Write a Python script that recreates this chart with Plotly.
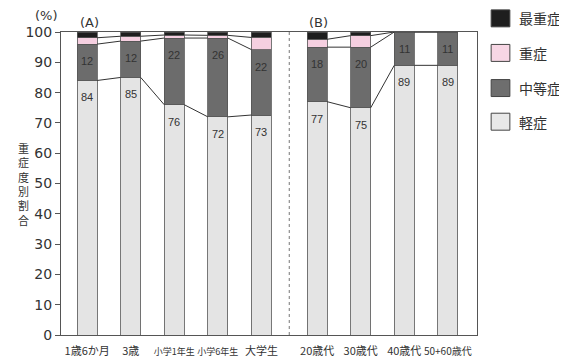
import plotly.graph_objects as go

categories = ["1歳6か月", "3歳", "小学1年生", "小学6年生", "大学生",
              "20歳代", "30歳代", "40歳代", "50+60歳代"]
group_a = 5  # first five bars form group (A), the rest (B)

mild = [84, 85, 76, 72, 72.6, 77, 75, 89, 89]            # 軽症
moderate = [12, 12, 22, 26, 21.6, 18, 20, 11, 11]        # 中等症
severe = [2.1, 1.6, 1.0, 0.9, 4.0, 2.6, 3.8, 0, 0]       # 重症
critical = [1.9, 1.4, 1.0, 1.1, 1.8, 2.4, 1.2, 0, 0]     # 最重症

series_names = ["軽症", "中等症", "重症", "最重症"]
series_vals = [mild, moderate, severe, critical]
colors = ["#e4e4e4", "#6c6c6c", "#f5cfe0", "#1e1e1e"]
legend_colors = {"軽症": "#e8e8e8", "中等症": "#6e6e6e", "重症": "#f7d6e4", "最重症": "#1e1e1e"}

y_ticks = list(range(0, 101, 10))

# layout positions (extra gap between groups)
gap = 0.28
xpos = [i if i < group_a else i + gap for i in range(len(categories))]
bw = 0.46

JP = "Noto Sans CJK JP"
NUM = "DejaVu Sans, Noto Sans CJK JP"

fig = go.Figure()
for name, vals, col in zip(series_names, series_vals, colors):
    fig.add_trace(go.Bar(
        x=xpos, y=vals, name=name, width=bw,
        marker=dict(color=col, line=dict(color="#555555", width=0.8)),
        showlegend=False, hoverinfo="skip"))

# cumulative tops
cum = []
run = [0] * len(categories)
for vals in series_vals:
    run = [r + v for r, v in zip(run, vals)]
    cum.append(run[:])

# connecting lines between adjacent bars within each group
groups = [list(range(0, group_a)), list(range(group_a, len(categories)))]
for g in groups:
    for a, b in zip(g[:-1], g[1:]):
        for level in range(3):
            fig.add_trace(go.Scatter(
                x=[xpos[a] + bw / 2, xpos[b] - bw / 2],
                y=[cum[level][a], cum[level][b]],
                mode="lines", line=dict(color="#333333", width=1),
                showlegend=False, hoverinfo="skip"))

# dotted separator
sep = (xpos[group_a - 1] + xpos[group_a]) / 2
fig.add_shape(type="line", x0=sep, x1=sep, y0=0, y1=100, xref="x", yref="y",
              line=dict(color="#777777", width=1, dash="dot"))

annotations = []
# value labels for 軽症 and 中等症
for level, vals in enumerate([mild, moderate]):
    for i, v in enumerate(vals):
        annotations.append(dict(
            x=xpos[i], y=cum[level][i], xref="x", yref="y",
            text=f"{v:.0f}", showarrow=False, yshift=-17,
            xanchor="center", yanchor="middle",
            font=dict(family="Liberation Sans, Arial", size=11, color="#333333")))

hdr_font = dict(family=NUM, size=13, color="#333333")
annotations.append(dict(x=-0.034, y=1.053, xref="paper", yref="paper", text="(%)",
                        xanchor="center", yanchor="middle", showarrow=False, font=hdr_font))
annotations.append(dict(x=xpos[0] + 0.05, y=1.033, xref="x", yref="paper", text="(A)",
                        xanchor="center", yanchor="middle", showarrow=False, font=hdr_font))
annotations.append(dict(x=xpos[group_a] + 0.03, y=1.033, xref="x", yref="paper", text="(B)",
                        xanchor="center", yanchor="middle", showarrow=False, font=hdr_font))
# y axis title (vertical stacked characters)
annotations.append(dict(x=-0.09, y=0.5, xref="paper", yref="paper",
                        text="<br>".join("重症度別割合"), showarrow=False,
                        xanchor="center", yanchor="middle",
                        font=dict(family=JP, size=11, color="#333333")))

# custom legend
leg_order = ["最重症", "重症", "中等症", "軽症"]
leg_y = [1.045, 0.931, 0.815, 0.704]
for name, yc in zip(leg_order, leg_y):
    fig.add_shape(type="rect", xref="paper", yref="paper",
                  x0=1.034, x1=1.079, y0=yc - 0.028, y1=yc + 0.028,
                  fillcolor=legend_colors[name], line=dict(color="#444444", width=1))
    annotations.append(dict(x=1.096, y=yc, xref="paper", yref="paper", text=name,
                            xanchor="left", yanchor="middle", showarrow=False,
                            font=dict(family=JP, size=14, color="#333333")))

ticktext = []
for c in categories:
    if c.startswith("小学"):
        ticktext.append(f"<span style='font-size:9px'>{c}</span>")
    elif c.startswith("50"):
        ticktext.append(f"<span style='font-size:10px'>{c}</span>")
    else:
        ticktext.append(c)

fig.update_layout(
    barmode="stack",
    width=559, height=356,
    margin=dict(l=53, r=90, t=24, b=29),
    paper_bgcolor="white", plot_bgcolor="white",
    showlegend=False,
    annotations=annotations,
    xaxis=dict(range=[-0.6, 8.95], tickvals=xpos, ticktext=ticktext,
               showgrid=False, zeroline=False, ticks="", automargin=False,
               showline=True, linecolor="#555555", linewidth=1, mirror=True,
               tickfont=dict(family=JP, size=11, color="#333333"),
               ticklabelstandoff=6),
    yaxis=dict(range=[0, 100], tickvals=y_ticks, showgrid=False, zeroline=False,
               ticks="outside", ticklen=5, tickcolor="#555555", automargin=False,
               showline=True, linecolor="#555555", linewidth=1, mirror=True,
               tickfont=dict(family=NUM, size=14, color="#333333")),
)

fig.write_html("out.html")
